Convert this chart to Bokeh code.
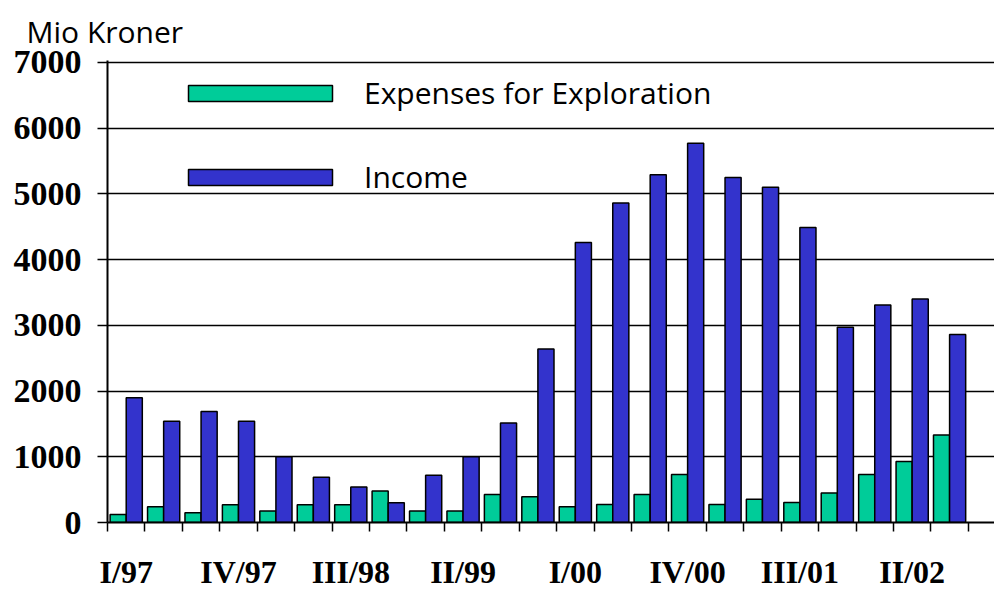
from bokeh.plotting import figure
from bokeh.models import FixedTicker, Range1d, ColumnDataSource, Legend, LegendItem
from bokeh.transform import dodge
from bokeh.embed import file_html
from bokeh.resources import INLINE

quarters = ["I/97", "II/97", "III/97", "IV/97", "I/98", "II/98", "III/98", "IV/98",
            "I/99", "II/99", "III/99", "IV/99", "I/00", "II/00", "III/00", "IV/00",
            "I/01", "II/01", "III/01", "IV/01", "I/02", "II/02", "III/02"]
exploration = [120, 240, 150, 270, 175, 270, 270, 480, 175, 175, 425, 390,
               240, 275, 425, 730, 275, 355, 305, 450, 730, 930, 1330]
income = [1900, 1540, 1690, 1540, 1000, 690, 540, 300, 720, 1000, 1515, 2640,
          4260, 4860, 5290, 5770, 5250, 5100, 4490, 2970, 3310, 3400, 2860]
y_ticks = [0, 1000, 2000, 3000, 4000, 5000, 6000, 7000]
label_every = 3

xs = list(range(len(quarters)))
src = ColumnDataSource(dict(x=xs, q=quarters, exp=exploration, inc=income))

p = figure(width=994, height=592, output_backend="svg", toolbar_location=None,
           x_range=Range1d(-0.5, 23.2), y_range=Range1d(0, 7030),
           min_border_left=107, min_border_right=0, min_border_top=60, min_border_bottom=68)
p.outline_line_color = None
p.background_fill_color = "white"
p.border_fill_color = "white"

GREEN = "#00CC99"
BLUE = "#3333CC"
r1 = p.vbar(x=dodge("x", -0.215, range=p.x_range), top="exp", width=0.43, bottom=0, source=src,
            fill_color=GREEN, line_color="black", line_width=1.5)
r2 = p.vbar(x=dodge("x", 0.215, range=p.x_range), top="inc", width=0.43, bottom=0, source=src,
            fill_color=BLUE, line_color="black", line_width=1.5)

# x axis: labels every third quarter, tick marks at quarter boundaries
major = xs[::label_every]
bounds = [i - 0.5 for i in range(len(quarters) + 1)]
p.xaxis.ticker = FixedTicker(ticks=major, minor_ticks=bounds)
p.xaxis.major_label_overrides = {i: quarters[i] for i in major}
p.xaxis.major_tick_line_color = None
p.xaxis.major_tick_out = 0
p.xaxis.major_tick_in = 0
p.xaxis.minor_tick_out = 9
p.xaxis.minor_tick_in = 0
p.xaxis.minor_tick_line_color = "black"
p.xaxis.minor_tick_line_width = 1.5
p.xaxis.axis_line_width = 2
p.xaxis.axis_line_color = "black"
p.xaxis.major_label_standoff = 22

p.yaxis.ticker = FixedTicker(ticks=y_ticks)
p.yaxis.minor_tick_line_color = None
p.yaxis.major_tick_out = 10
p.yaxis.major_tick_in = 0
p.yaxis.major_tick_line_width = 1.5
p.yaxis.major_tick_line_color = "black"
p.yaxis.axis_line_width = 2
p.yaxis.axis_line_color = "black"
p.yaxis.major_label_standoff = 16

for ax in (p.xaxis, p.yaxis):
    ax.major_label_text_font = "Liberation Serif"
    ax.major_label_text_font_style = "bold"
    ax.major_label_text_color = "black"
p.xaxis.major_label_text_font_size = "32px"
p.yaxis.major_label_text_font_size = "34px"

p.xgrid.grid_line_color = None
p.ygrid.ticker = FixedTicker(ticks=y_ticks)
p.ygrid.grid_line_color = "black"
p.ygrid.grid_line_width = 1.5

p.title.text = "Mio Kroner"
p.title.align = "left"
p.title.offset = -81
p.title.standoff = 17
p.title.text_font = "Open Sans"
p.title.text_font_style = "normal"
p.title.text_font_size = "30px"
p.title.text_color = "black"

legend = Legend(items=[LegendItem(label="Expenses for Exploration", renderers=[r1]),
                       LegendItem(label="Income", renderers=[r2])],
                location=(63, 325), orientation="vertical",
                glyph_width=180, glyph_height=20, label_standoff=14, spacing=43,
                padding=0, margin=0, label_height=20,
                background_fill_alpha=0, border_line_alpha=0,
                label_text_font="Open Sans", label_text_font_size="30px",
                label_text_color="black")
p.add_layout(legend, "center")

open("out.html", "w").write(file_html(p, INLINE))
